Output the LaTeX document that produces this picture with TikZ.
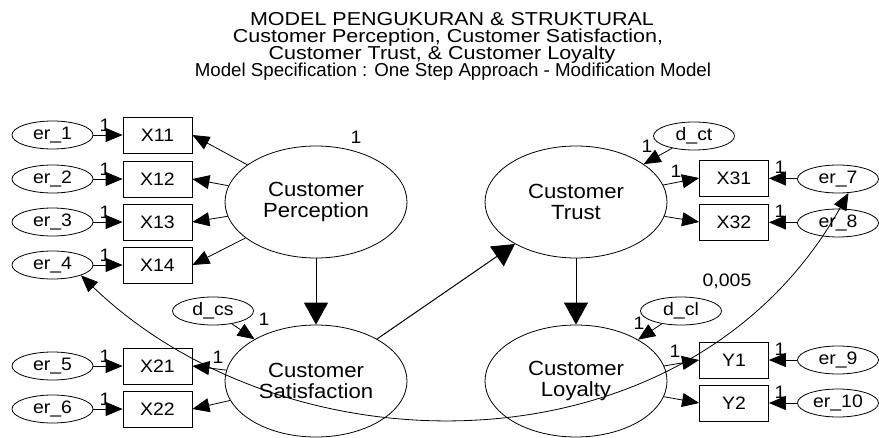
\documentclass[tikz,border=0pt]{standalone}
\usepackage{fontspec}
\setmainfont[FakeStretch=1.08]{Liberation Sans}
\newfontfamily\titlefont{Liberation Sans}
\newfontfamily\titlewide[FakeStretch=1.15]{Liberation Sans}
\usetikzlibrary{arrows.meta,shapes.geometric}

\tikzset{
  latent/.style={ellipse, draw, line width=0.8pt, minimum width=182pt, minimum height=112pt,
    inner sep=0pt, align=center, font=\fontsize{20.5}{20.5}\selectfont},
  errv/.style={ellipse, draw, line width=0.8pt, minimum width=81pt, minimum height=28pt,
    inner sep=0pt, font=\fontsize{18}{18}\selectfont},
  obsv/.style={rectangle, draw, line width=0.8pt, minimum width=69pt, minimum height=36pt,
    inner sep=0pt, font=\fontsize{18}{18}\selectfont},
  wt/.style={inner sep=0pt, font=\fontsize{18}{18}\selectfont},
  ttl/.style={inner sep=0pt, anchor=base, font=\titlewide\fontsize{18.7}{18}\selectfont},
  ttlb/.style={inner sep=0pt, anchor=base, font=\titlefont\fontsize{18.7}{18}\selectfont},
  ar/.style={line width=0.8pt, -{Triangle[length=17pt,width=14pt]}},
  bigar/.style={line width=1pt, -{Triangle[length=22pt,width=24pt]}},
  covar/.style={line width=0.8pt, {Triangle[length=17pt,width=14pt]}-{Triangle[length=17pt,width=14pt]}}
}

\begin{document}
\begin{tikzpicture}[x=1pt,y=-1pt]
  \fill[white] (0,0) rectangle (879,437);
  \useasboundingbox (0,0) rectangle (879,437);

  % title
  \node[ttl] (title1) at (452,25) {MODEL PENGUKURAN \& STRUKTURAL};
  \node[ttl] (title2) at (448,42) {Customer Perception, Customer Satisfaction,};
  \node[ttl] (title3) at (442,59) {Customer Trust, \& Customer Loyalty};
  \node[ttlb] (title4) at (453,76) {Model Specification : One Step Approach - Modification Model};

  % latent constructs
  \node[latent] (P) at (316,202) {Customer\\Perception};
  \node[latent] (T) at (576,202) {Customer\\Trust};
  \node[latent] (S) at (316,381) {Customer\\Satisfaction};
  \node[latent] (L) at (576,381) {Customer\\Loyalty};

  % observed indicators
  \node[obsv] (X11) at (157.5,135) {X11};
  \node[obsv] (X12) at (157.5,179) {X12};
  \node[obsv] (X13) at (157.5,222) {X13};
  \node[obsv] (X14) at (157.5,265) {X14};
  \node[obsv] (X21) at (157.5,366) {X21};
  \node[obsv] (X22) at (157.5,409) {X22};
  \node[obsv] (X31) at (734,178) {X31};
  \node[obsv] (X32) at (734,222) {X32};
  \node[obsv] (Y1) at (734,360) {Y1};
  \node[obsv] (Y2) at (734,403) {Y2};

  % measurement errors
  \node[errv] (e1) at (52.5,135) {er\_1};
  \node[errv] (e2) at (52.5,179) {er\_2};
  \node[errv] (e3) at (52.5,222) {er\_3};
  \node[errv] (e4) at (52.5,265) {er\_4};
  \node[errv] (e5) at (52.5,366) {er\_5};
  \node[errv] (e6) at (52.5,409) {er\_6};
  \node[errv] (e7) at (838,179) {er\_7};
  \node[errv] (e8) at (838,223) {er\_8};
  \node[errv] (e9) at (838,360) {er\_9};
  \node[errv] (e10) at (838,403) {er\_10};

  % disturbances
  \node[errv] (dcs) at (213,311) {d\_cs};
  \node[errv] (dct) at (694,136) {d\_ct};
  \node[errv] (dcl) at (681,311) {d\_cl};

  % error -> indicator
  \foreach \e/\x in {e1/X11,e2/X12,e3/X13,e4/X14,e5/X21,e6/X22,e7/X31,e8/X32,e9/Y1,e10/Y2}
    \draw[ar] (\e) -- (\x);

  % loadings
  \draw[ar] (P) -- (X11.east);
  \draw[ar] (P) -- (X12.east);
  \draw[ar] (P) -- (X13.east);
  \draw[ar] (P) -- (X14.east);
  \draw[ar] (S) -- (X21.east);
  \draw[ar] (S) -- (X22.east);
  \draw[ar] (T) -- (X31.west);
  \draw[ar] (T) -- (X32.west);
  \draw[ar] (L) -- (Y1.west);
  \draw[ar] (L) -- (Y2.west);

  % disturbances -> latent
  \draw[ar] (dcs) -- (S);
  \draw[ar] (dct) -- (T);
  \draw[ar] (dcl) -- (L);

  % structural paths
  \draw[bigar] (P) -- (S);
  \draw[bigar] (S) -- (T);
  \draw[bigar] (T) -- (L);

  % error covariance
  \draw[covar] (e4.-20) .. controls (292,478) and (690,476) .. (e7.-53);
  \node[wt] (cov) at (727,281) {0,005};

  % fixed weights
  \foreach \n/\x/\y in {w1/105/125, w2/105/169, w3/105/212, w4/105/255, w5/105/356, w6/105/399,
                        w7/780/167, w8/780/211, w9/780/349, w10/780/392,
                        wp/356/137, ws/218/357, wt3/676/171, wl/675/351,
                        wcs/264/319, wct/647/146, wcl/639/323}
    \node[wt] (\n) at (\x,\y) {1};
\end{tikzpicture}
\end{document}
